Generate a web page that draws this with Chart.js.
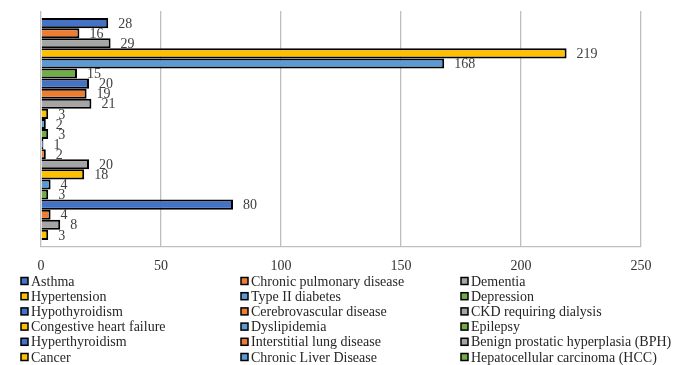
<!DOCTYPE html>
<html>
<head>
<meta charset="utf-8">
<script src="https://cdn.jsdelivr.net/npm/chart.js@4/dist/chart.umd.min.js"></script>
<style>
html,body{margin:0;padding:0;background:#fff;}
#wrap{width:691px;height:365px;}
</style>
</head>
<body>
<div id="wrap"><canvas id="c" width="691" height="365"></canvas></div>
<script>
const seriesNames = [
  "Asthma", "Chronic pulmonary disease", "Dementia",
  "Hypertension", "Type II diabetes", "Depression",
  "Hypothyroidism", "Cerebrovascular disease", "CKD requiring dialysis",
  "Congestive heart failure", "Dyslipidemia", "Epilepsy",
  "Hyperthyroidism", "Interstitial lung disease", "Benign prostatic hyperplasia (BPH)",
  "Cancer", "Chronic Liver Disease", "Hepatocellular carcinoma (HCC)",
  "Series 19", "Series 20", "Series 21", "Series 22"
];
const seriesValues = [28, 16, 29, 219, 168, 15, 20, 19, 21, 3, 2, 3, 1, 2, 20, 18, 4, 3, 80, 4, 8, 3];
const legendCount = 18;
const xTicks = [0, 50, 100, 150, 200, 250];
const palette = ["#4472C4", "#ED7D31", "#A5A5A5", "#FFC000", "#5B9BD5", "#70AD47"];

const FONT = "'Liberation Serif', 'DejaVu Serif', serif";

const datasets = seriesNames.map((name, i) => ({
  label: name,
  data: [seriesValues[i]],
  backgroundColor: palette[i % palette.length],
  borderColor: "#000000",
  borderWidth: 2,
  categoryPercentage: 0.94,
  barPercentage: 1.0
}));

const valueLabels = {
  id: 'valueLabels',
  afterDatasetsDraw(chart) {
    const ctx = chart.ctx;
    ctx.save();
    ctx.font = "14px " + FONT;
    ctx.fillStyle = "#404040";
    ctx.textAlign = "left";
    ctx.textBaseline = "middle";
    chart.data.datasets.forEach((ds, i) => {
      const el = chart.getDatasetMeta(i).data[0];
      ctx.fillText(String(ds.data[0]), el.x + 10, el.y + 1);
    });
    ctx.restore();
  }
};

const gridLegend = {
  id: 'gridLegend',
  afterDraw(chart) {
    const ctx = chart.ctx;
    const colX = [21, 241, 461];
    const y0 = 281, dy = 15.2;
    ctx.save();
    ctx.font = "14px " + FONT;
    ctx.textBaseline = "middle";
    ctx.textAlign = "left";
    for (let i = 0; i < legendCount; i++) {
      const ds = chart.data.datasets[i];
      const x = colX[i % 3];
      const y = y0 + Math.floor(i / 3) * dy;
      ctx.fillStyle = ds.backgroundColor;
      ctx.fillRect(x, y - 3.5, 7, 7);
      ctx.strokeStyle = "#000";
      ctx.lineWidth = 1.5;
      ctx.strokeRect(x, y - 3.5, 7, 7);
      ctx.fillStyle = "#262626";
      ctx.fillText(ds.label, x + 10, y + 1);
    }
    ctx.restore();
  }
};

new Chart(document.getElementById('c'), {
  type: 'bar',
  data: { labels: [""], datasets },
  options: {
    indexAxis: 'y',
    responsive: false,
    animation: false,
    layout: { padding: { left: 41, right: 50, top: 11, bottom: 93 } },
    plugins: { legend: { display: false }, tooltip: { enabled: false } },
    scales: {
      y: { display: false },
      x: {
        min: 0, max: 250,
        afterBuildTicks(scale) { scale.ticks = xTicks.map(v => ({ value: v })); },
        afterFit(scale) { scale.height = 25; },
        grid: { color: "#BFBFBF", lineWidth: 1.3, drawTicks: false },
        border: { color: "#BFBFBF", width: 1.3 },
        ticks: { padding: 11, color: "#333", font: { family: FONT, size: 14 } }
      }
    }
  },
  plugins: [valueLabels, gridLegend]
});
</script>
</body>
</html>
